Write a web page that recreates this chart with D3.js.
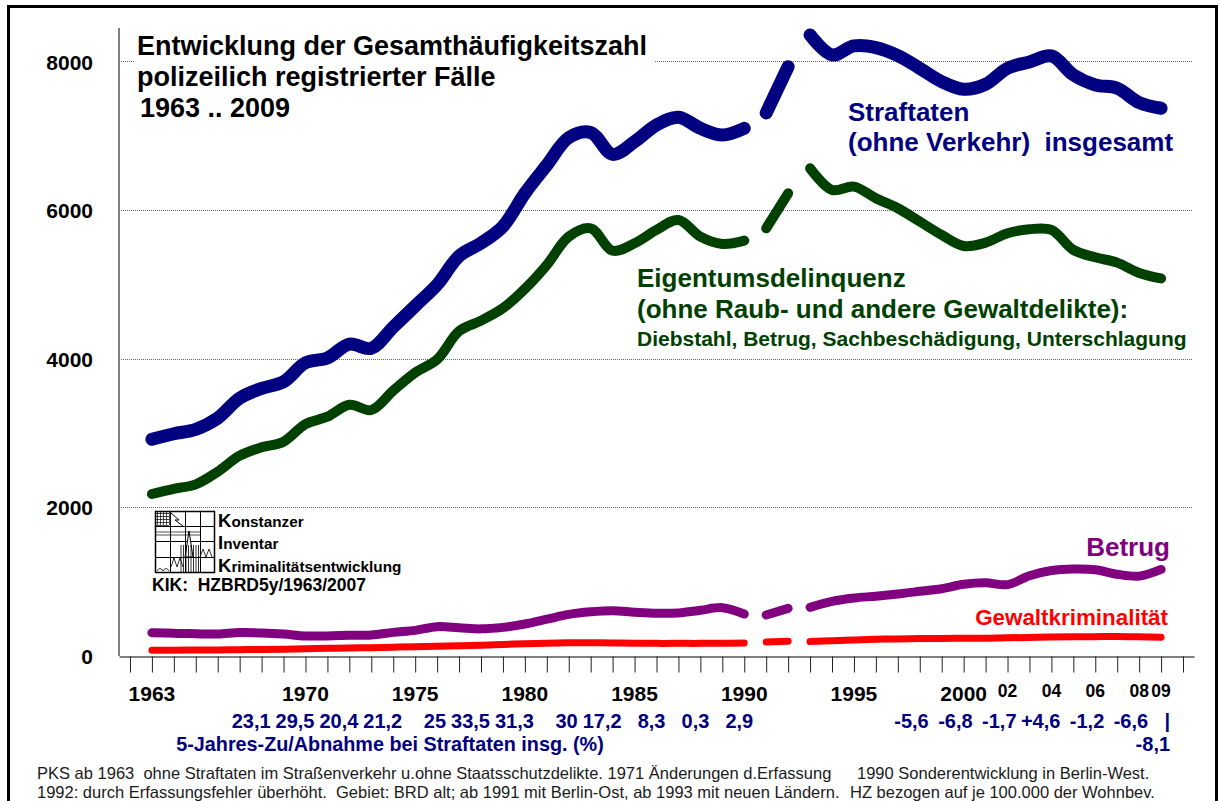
<!DOCTYPE html>
<html>
<head>
<meta charset="utf-8">
<script src="https://cdn.jsdelivr.net/npm/d3@7"></script>
<style>
body { margin: 0; background: #fff; }
svg { display: block; font-family: Arial, "Liberation Sans", sans-serif; }
text { white-space: pre; }
</style>
</head>
<body>
<svg id="chart" width="1219" height="801"></svg>
<script>
// Häufigkeitszahlen (Fälle je 100.000 Einwohner), 1963 .. 2009
var years = d3.range(1963, 2010);
var straftaten = [2916, 2990, 3050, 3200, 3470, 3600, 3690, 3945, 4010, 4195, 4140, 4425, 4710, 4995, 5380, 5555, 5780, 6225, 6605, 6975, 7045, 6750, 6920, 7145, 7250, 7100, 7010, 7100, 7307, 7930, 8357, 8088, 8209, 8186, 8078, 7908, 7729, 7626, 7693, 7908, 7994, 8074, 7819, 7684, 7640, 7446, 7370];
var eigentum = [2180, 2250, 2310, 2480, 2695, 2808, 2884, 3120, 3220, 3380, 3310, 3570, 3813, 3990, 4370, 4512, 4680, 4940, 5262, 5643, 5755, 5454, 5553, 5733, 5867, 5643, 5544, 5589, 5755, 6226, 6563, 6271, 6316, 6159, 6025, 5845, 5665, 5517, 5562, 5688, 5742, 5733, 5464, 5365, 5293, 5154, 5080];
var betrug = [314, 305, 300, 295, 315, 310, 295, 270, 270, 278, 283, 318, 345, 395, 380, 365, 385, 430, 495, 560, 595, 610, 590, 575, 580, 615, 650, 565, 552, 641, 655, 735, 780, 805, 835, 870, 905, 965, 985, 960, 1080, 1150, 1170, 1160, 1100, 1075, 1165];
var gewalt = [77, 78, 80, 82, 85, 88, 92, 98, 103, 108, 112, 118, 125, 130, 137, 145, 155, 165, 172, 177, 178, 175, 172, 170, 170, 170, 172, 175, 190, 200, 195, 205, 215, 225, 230, 235, 237, 238, 240, 245, 250, 255, 258, 260, 262, 258, 252];

// Brüche in der Reihe: 1990 | 1991-92 | ab 1993
var segments = [[1963, 1990], [1991, 1992], [1993, 2009]];

var yTicks = [0, 2000, 4000, 6000, 8000];
var yearLabels = [1963, 1970, 1975, 1980, 1985, 1990, 1995, 2000];
var shortLabels = [2002, 2004, 2006, 2008, 2009];

// 5-Jahres-Zu/Abnahme (%)
var pctYears = [1968, 1970, 1972, 1974, 1976, 1978, 1980, 1982, 1984, 1986, 1988, 1990, 1998, 2000, 2002, 2004, 2006, 2008, 2009];
var pctLabels = ["23,1", "29,5", "20,4", "21,2", "25", "33,5", "31,3", "30", "17,2", "8,3", "0,3", "2,9", "-5,6", "-6,8", "-1,7", "+4,6", "-1,2", "-6,6", "|"];
var pctLast = "-8,1";

var series = [
  {name: "gewalt", values: gewalt, color: "#ff0000", width: 7},
  {name: "betrug", values: betrug, color: "#800080", width: 9},
  {name: "eigentum", values: eigentum, color: "#004000", width: 10},
  {name: "straftaten", values: straftaten, color: "#000080", width: 13}
];

var svg = d3.select("#chart");

var x = d3.scaleLinear().domain([1961.5, 2010.5]).range([119, 1194]);
var y = d3.scaleLinear().domain([0, 8450]).range([656, 28]);

// outer frame
svg.append("rect")
  .attr("x", 8.5).attr("y", 6.5)
  .attr("width", 1208).attr("height", 830)
  .attr("fill", "none").attr("stroke", "#000").attr("stroke-width", 3);

// gridlines
svg.append("g")
  .selectAll("line")
  .data(yTicks.filter(function(d) { return d > 0; }))
  .enter().append("line")
    .attr("x1", 119).attr("x2", 1193)
    .attr("y1", function(d) { return Math.round(y(d)) + 0.5; })
    .attr("y2", function(d) { return Math.round(y(d)) + 0.5; })
    .attr("stroke", "#666")
    .attr("stroke-dasharray", "1,1");

// title box hides the top gridline behind the title
svg.append("rect")
  .attr("x", 134).attr("y", 30).attr("width", 520).attr("height", 92)
  .attr("fill", "#fff");

// y axis line
svg.append("line")
  .attr("x1", 119).attr("x2", 119)
  .attr("y1", 28).attr("y2", 656)
  .attr("stroke", "#808080").attr("stroke-width", 2);

// x axis with a tick per year
var xAxis = svg.append("g")
  .attr("transform", "translate(0,656.5)")
  .call(d3.axisBottom(x).tickValues(d3.range(1962, 2011)).tickSize(16).tickSizeOuter(0).tickFormat(""));
xAxis.select(".domain").attr("stroke", "#000");
xAxis.selectAll(".tick line").attr("stroke", "#222");

// y tick labels
var yAxis = svg.append("g")
  .attr("transform", "translate(93,0)")
  .call(d3.axisLeft(y).tickValues(yTicks).tickSize(0).tickPadding(0).tickFormat(d3.format("d")));
yAxis.select(".domain").remove();
yAxis.selectAll("text")
  .attr("font-family", "Arial, 'Liberation Sans', sans-serif")
  .attr("font-size", 21).attr("font-weight", "bold").attr("fill", "#000")
  .attr("dy", "0.36em");

// year labels
svg.append("g")
  .attr("font-size", 21).attr("font-weight", "bold").attr("text-anchor", "middle")
  .selectAll("text")
  .data(yearLabels)
  .enter().append("text")
    .attr("x", function(d) { return x(d); })
    .attr("y", 701)
    .text(function(d) { return d; });

svg.append("g")
  .attr("font-size", 17.5).attr("font-weight", "bold").attr("text-anchor", "middle")
  .selectAll("text")
  .data(shortLabels)
  .enter().append("text")
    .attr("x", function(d) { return x(d); })
    .attr("y", 697)
    .text(function(d) { return String(d).slice(2); });

// percent changes
var pct = svg.append("g")
  .attr("font-size", 20).attr("font-weight", "bold").attr("fill", "#000080").attr("text-anchor", "end");
pct.selectAll("text")
  .data(pctYears)
  .enter().append("text")
    .attr("x", function(d) { return x(d) + 9; })
    .attr("y", 728)
    .text(function(d, i) { return pctLabels[i]; });
pct.append("text")
  .attr("x", x(2009) + 9).attr("y", 751)
  .text(pctLast);

svg.append("text")
  .attr("x", 390).attr("y", 751)
  .attr("text-anchor", "middle")
  .attr("font-size", 19.8).attr("font-weight", "bold").attr("fill", "#000080")
  .text("5-Jahres-Zu/Abnahme bei Straftaten insg. (%)");

// lines
var line = d3.line()
  .x(function(d) { return x(d.year); })
  .y(function(d) { return y(d.value); })
  .curve(d3.curveCatmullRom.alpha(0.5));

var lines = svg.append("g");
series.forEach(function(s) {
  var pts = years.map(function(yr, i) { return {year: yr, value: s.values[i]}; });
  segments.forEach(function(seg) {
    lines.append("path")
      .datum(pts.filter(function(p) { return p.year >= seg[0] && p.year <= seg[1]; }))
      .attr("fill", "none")
      .attr("stroke", s.color)
      .attr("stroke-width", s.width)
      .attr("stroke-linecap", "round")
      .attr("stroke-linejoin", "round")
      .attr("d", line);
  });
});

// title
var title = svg.append("text")
  .attr("font-size", 27).attr("font-weight", "bold").attr("fill", "#000");
title.append("tspan").attr("x", 137).attr("y", 55).text("Entwicklung der Gesamthäufigkeitszahl");
title.append("tspan").attr("x", 137).attr("y", 86).text("polizeilich registrierter Fälle");
title.append("tspan").attr("x", 140).attr("y", 117).text("1963 .. 2009");

// series labels
var blueLab = svg.append("text")
  .attr("font-size", 26).attr("font-weight", "bold").attr("fill", "#000080");
blueLab.append("tspan").attr("x", 848).attr("y", 121).text("Straftaten");
blueLab.append("tspan").attr("x", 848).attr("y", 151).text("(ohne Verkehr)  insgesamt");

var greenLab = svg.append("text")
  .attr("font-weight", "bold").attr("fill", "#004000");
greenLab.append("tspan").attr("x", 637).attr("y", 287).attr("font-size", 26).text("Eigentumsdelinquenz");
greenLab.append("tspan").attr("x", 637).attr("y", 318).attr("font-size", 26).text("(ohne Raub- und andere Gewaltdelikte):");
greenLab.append("tspan").attr("x", 637).attr("y", 346).attr("font-size", 21).text("Diebstahl, Betrug, Sachbeschädigung, Unterschlagung");

svg.append("text")
  .attr("x", 1170).attr("y", 556)
  .attr("text-anchor", "end")
  .attr("font-size", 26).attr("font-weight", "bold").attr("fill", "#800080")
  .text("Betrug");

svg.append("text")
  .attr("x", 1168).attr("y", 625)
  .attr("text-anchor", "end")
  .attr("font-size", 22.4).attr("font-weight", "bold").attr("fill", "#ff0000")
  .text("Gewaltkriminalität");

// KIK logo
var logo = svg.append("g").attr("transform", "translate(155,511)")
  .attr("fill", "none").attr("stroke", "#000").attr("stroke-width", 1);
logo.append("rect").attr("x", 0.5).attr("y", 0.5).attr("width", 59).attr("height", 61).attr("stroke-width", 1.5);
[15, 30, 45].forEach(function(v) {
  logo.append("line").attr("x1", v + 0.5).attr("x2", v + 0.5).attr("y1", 0).attr("y2", 61);
});
[15, 30, 46].forEach(function(v) {
  logo.append("line").attr("x1", 0).attr("x2", 60).attr("y1", v + 0.5).attr("y2", v + 0.5);
});
d3.range(2, 15, 3).forEach(function(v) {
  logo.append("line").attr("x1", 1).attr("x2", 14).attr("y1", v + 0.5).attr("y2", v + 0.5).attr("stroke-width", 0.7);
  logo.append("line").attr("x1", v + 0.5).attr("x2", v + 0.5).attr("y1", 1).attr("y2", 14).attr("stroke-width", 0.7);
});
logo.append("path").attr("d", "M16,2 L24,9 L20,9 L28,15");
logo.append("path").attr("d", "M0,21 L45,21 M0,24 L45,24").attr("stroke-width", 0.7);
logo.append("path").attr("d", "M30,46 L34,20 L38,46 Z").attr("fill", "#fff");
d3.range(26, 45, 2.5).forEach(function(v) {
  logo.append("line").attr("x1", v).attr("x2", v).attr("y1", 34).attr("y2", 61).attr("stroke-width", 0.8);
});
logo.append("path").attr("d", "M16,56 L19,47 L22,56 L25,47 L28,56 M45,46 L48,38 L51,46 L54,38 L57,46").attr("stroke-width", 0.8);
logo.append("path").attr("d", "M2,60 Q5,55 8,60 Q11,55 14,60").attr("stroke-width", 0.8);

var kik = svg.append("g").attr("font-weight", "bold").attr("fill", "#000");
[["K", "onstanzer", 527], ["I", "nventar", 549], ["K", "riminalitätsentwicklung", 572]].forEach(function(r) {
  var t = kik.append("text").attr("x", 218).attr("y", r[2]);
  t.append("tspan").attr("font-size", 18.5).text(r[0]);
  t.append("tspan").attr("font-size", 15.3).text(r[1]);
});
kik.append("text").attr("x", 152).attr("y", 591).attr("font-size", 17.5).text("KIK:  HZBRD5y/1963/2007");

// footnote
var foot = svg.append("g").attr("font-size", 16.5).attr("fill", "#1a1a1a");
foot.append("text").attr("x", 37).attr("y", 779).text("PKS ab 1963  ohne Straftaten im Straßenverkehr u.ohne Staatsschutzdelikte. 1971 Änderungen d.Erfassung");
foot.append("text").attr("x", 857).attr("y", 779).text("1990 Sonderentwicklung in Berlin-West.");
foot.append("text").attr("x", 37).attr("y", 798).text("1992: durch Erfassungsfehler überhöht.  Gebiet: BRD alt; ab 1991 mit Berlin-Ost, ab 1993 mit neuen Ländern.");
foot.append("text").attr("x", 850).attr("y", 798).text("HZ bezogen auf je 100.000 der Wohnbev.");
</script>
</body>
</html>
